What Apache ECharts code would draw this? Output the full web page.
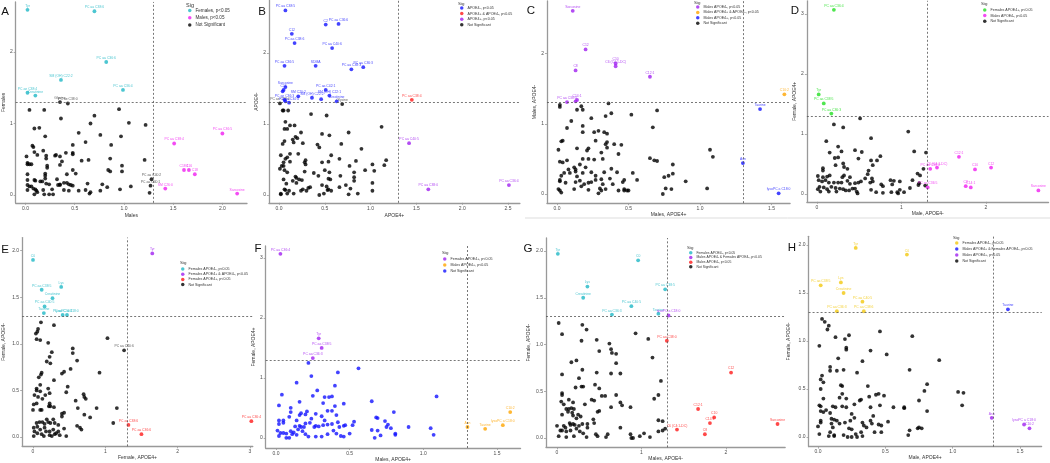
<!DOCTYPE html>
<html><head><meta charset="utf-8">
<script src="https://cdn.jsdelivr.net/npm/echarts@6/dist/echarts.min.js"></script>
<style>html,body{margin:0;padding:0;background:#fff}#c{width:1050px;height:463px}</style>
</head><body><div id="c"></div>
<script>
// ---------------- DATA ----------------
// Panel A: x = Males, y = Females (-log10 p)
const aFemales = [[0.02,2.59,'Tyr'],[0.70,2.57,'PC aa C38:6'],[0.82,1.86,'PC aa C36:6'],[0.36,1.61,'SM (OH) C22:2'],[0.02,1.43,'PC ae C38:4'],[0.10,1.39,'Creatinine'],[0.99,1.47,'PC aa C36:4']];
const aMales = [[2.00,0.86,'PC aa C36:5'],[1.51,0.72,'PC aa C38:4'],[1.61,0.35,'C18:1'],[1.66,0.35,'C16'],[1.72,0.29,'C18'],[1.42,0.09,'SM C26:0'],[2.15,0.02,'Sarcosine']];
const aNotSig = [[0.35,1.30,'Glycine'],[0.43,1.28,'PC ae C38:0'],[1.28,0.22,'PC aa C40:2'],[1.27,0.13,'PC aa C40:1'],[1.26,0.03],
[0.04,1.19],[0.19,1.19],[0.95,1.20],[0.36,1.07],[0.70,1.11],[0.66,1.00],[1.05,1.01],[1.22,0.98],[0.09,0.93],[0.14,0.94],[0.54,0.87],[0.20,0.82],[0.76,0.84],[0.97,0.82],[0.61,0.74],[0.07,0.69],[0.08,0.67],[0.48,0.70],[0.87,0.70],[0.18,0.62],[0.09,0.60],[0.41,0.59],[0.48,0.59],[0.21,0.55],[0.30,0.55],[0.31,0.56],[0.48,0.57],[0.01,0.54],[0.21,0.51],[0.12,0.56],[0.35,0.54],[0.57,0.48],[0.64,0.49],[0.86,0.51],[1.21,0.49],[0.02,0.45],[0.02,0.43],[0.04,0.43],[0.06,0.43],[0.37,0.47],[0.22,0.41],[0.35,0.42],[0.98,0.41],[0.22,0.38],[0.98,0.33],[0.84,0.35],[0.86,0.33],[0.48,0.35],[0.51,0.30],[0.02,0.29],[0.20,0.30],[0.20,0.27],[0.42,0.29],[0.32,0.22],[0.02,0.21],[0.20,0.23],[0.09,0.21],[0.10,0.20],[0.15,0.19],[0.17,0.19],[0.21,0.16],[0.24,0.15],[0.39,0.17],[0.42,0.17],[0.44,0.15],[0.33,0.14],[0.35,0.15],[0.46,0.14],[0.48,0.13],[0.78,0.15],[0.83,0.11],[1.07,0.12],[0.02,0.14],[0.04,0.12],[0.06,0.12],[0.08,0.09],[0.10,0.08],[0.11,0.06],[0.02,0.07],[0.12,0.04],[0.18,0.07],[0.27,0.08],[0.39,0.07],[0.44,0.06],[0.54,0.06],[0.61,0.07],[0.66,0.04],[0.65,0.02],[0.76,0.06],[0.96,0.08],[0.09,0.01],[0.19,0.01],[0.24,0.01],[0.28,0.01],[0.35,0.14],[0.63,0.16]];

// Panel B: x = APOE4+, y = APOE4-
const bApoeNeg = [[0.07,2.60,'PC aa C38:5'],[0.51,2.40,'C2'],[0.65,2.41,'PC aa C36:6'],[0.14,2.27,'C12'],[0.17,2.14,'PC aa C38:6'],[0.58,2.07,'PC aa C40:6'],[0.06,1.82,'PC aa C36:5'],[0.40,1.82,'SDMA'],[0.79,1.77,'PC aa C38:3'],[0.92,1.80,'PC aa C36:3'],[0.07,1.52,'Sarcosine'],[0.05,1.48,'C16'],[0.04,1.46],[0.51,1.48,'PC aa C42:1'],[0.21,1.39,'SM C20:2'],[0.55,1.40,'SM (OH) C22:1'],[0.36,1.37,'SM (OH) C22:2'],[0.46,1.35],[0.06,1.34,'PC ae C36:3'],[0.11,1.30,'PC aa C34:4'],[0.07,1.32],[0.63,1.32,'Creatinine']];
const bBoth = [[1.45,1.34,'PC aa C38:4']];
const bApoePos = [[1.42,0.73,'PC aa C40:5'],[1.63,0.08,'PC aa C38:0'],[2.51,0.14,'PC aa C36:4']];
const bNotSig = [[0.69,1.28,'Glycine'],[0.01,1.29,'PC ae C38:4'],
[0.05,1.19],[0.10,1.19],[0.04,1.19],[0.35,1.14],[0.52,1.12],[1.12,0.96],[0.07,1.03],[0.12,0.98],[0.17,0.98],[0.06,0.93],[0.09,0.93],[0.24,0.88],[0.47,0.86],[0.55,0.84],[0.76,0.88],[0.18,0.82],[0.20,0.80],[0.15,0.78],[0.16,0.74],[0.26,0.73],[0.06,0.76],[0.04,0.72],[0.42,0.71],[0.44,0.67],[0.68,0.72],[0.90,0.65],[0.12,0.58],[0.21,0.58],[0.02,0.56],[0.07,0.51],[0.09,0.53],[0.12,0.47],[0.05,0.46],[0.03,0.41],[0.05,0.41],[0.01,0.37],[0.06,0.35],[0.29,0.49],[0.28,0.46],[0.29,0.43],[0.57,0.56],[0.66,0.51],[0.47,0.46],[0.54,0.47],[0.77,0.41],[0.84,0.48],[1.02,0.43],[1.15,0.42],[1.17,0.49],[0.09,0.32],[0.28,0.33],[0.38,0.31],[0.43,0.27],[0.50,0.35],[0.55,0.32],[0.67,0.27],[0.82,0.32],[0.82,0.25],[0.94,0.35],[1.04,0.34],[0.18,0.26],[0.19,0.24],[0.22,0.22],[0.25,0.21],[0.19,0.17],[0.05,0.22],[0.15,0.20],[0.54,0.23],[0.56,0.22],[0.82,0.20],[1.02,0.17],[0.08,0.16],[0.26,0.08],[0.32,0.10],[0.34,0.11],[0.47,0.14],[0.52,0.12],[0.54,0.08],[0.57,0.06],[0.66,0.11],[0.73,0.14],[0.78,0.09],[1.02,0.06],[0.07,0.07],[0.11,0.06],[0.02,0.01],[0.09,0.02],[0.16,0.02],[0.24,0.06],[0.30,0.06],[0.44,0.00],[0.49,0.02],[0.53,0.07],[0.76,0.01],[0.86,0.02],[0.02,0.02],[0.06,0.08]];

// Panel C: x = Males APOE4+, y = Males APOE4-
const cMalesNeg = [[0.11,2.61,'Sarcosine'],[0.20,2.06,'C12'],[0.13,1.76,'C8'],[0.41,1.86,'C10'],[0.41,1.82,'C6 (C4:1-DC)'],[0.65,1.67,'C12:1'],[0.14,1.34,'C14:1'],[0.13,1.32],[0.07,1.31,'PC aa C38:0']];
const cBoth = [[1.59,1.42,'C10:2']];
const cMalesPos = [[1.42,1.21,'Taurine'],[1.30,0.44,'Asn'],[1.55,0.01,'lysoPC a C18:0']];
const cNotSig = [[0.02,1.27],[0.02,1.24],[0.36,1.29],[0.17,1.25],[0.14,1.20],[0.18,1.20],[0.38,1.15],[0.34,1.11],[0.52,1.13],[0.70,1.19],[0.24,1.08],[0.10,1.04],[0.07,0.94],[0.18,0.97],[0.18,0.88],[0.26,0.88],[0.29,0.90],[0.33,0.88],[0.35,0.86],[0.67,0.95],[0.03,0.75],[0.04,0.76],[0.27,0.76],[0.34,0.71],[0.40,0.71],[0.45,0.70],[0.01,0.63],[0.14,0.65],[0.22,0.65],[0.21,0.62],[0.35,0.66],[0.35,0.74],[0.31,0.59],[0.43,0.57],[0.18,0.50],[0.22,0.50],[0.26,0.49],[0.32,0.50],[0.65,0.51],[0.68,0.48],[0.70,0.47],[1.07,0.63],[1.09,0.53],[0.02,0.46],[0.04,0.45],[0.07,0.48],[0.12,0.38],[0.16,0.42],[0.20,0.38],[0.13,0.35],[0.13,0.32],[0.08,0.35],[0.09,0.30],[0.05,0.30],[0.03,0.26],[0.24,0.31],[0.18,0.30],[0.27,0.26],[0.33,0.31],[0.38,0.36],[0.42,0.31],[0.53,0.30],[0.81,0.42],[0.81,0.29],[0.78,0.26],[0.75,0.24],[0.14,0.25],[0.02,0.18],[0.02,0.20],[0.06,0.16],[0.13,0.17],[0.16,0.19],[0.19,0.14],[0.22,0.16],[0.27,0.20],[0.31,0.21],[0.24,0.17],[0.37,0.22],[0.47,0.20],[0.46,0.17],[0.39,0.14],[0.32,0.14],[0.56,0.20],[0.90,0.18],[0.01,0.07],[0.02,0.05],[0.03,0.02],[0.12,0.07],[0.17,0.11],[0.22,0.06],[0.30,0.08],[0.29,0.01],[0.31,0.05],[0.34,0.07],[0.43,0.05],[0.47,0.07],[0.47,0.05],[0.49,0.05],[0.50,0.05],[0.74,0.00],[0.76,0.08],[0.80,0.07],[1.05,0.08]];

// Panel D: x = Male APOE4-, y = Female APOE4+
const dFemPos = [[0.20,3.07,'PC aa C36:4'],[0.02,1.66,'Tyr'],[0.08,1.51,'PC aa C38:5'],[0.17,1.34,'PC aa C36:3']];
const dMalesNeg = [[1.68,0.62,'C12:1'],[1.87,0.41,'C10'],[2.06,0.44,'C12'],[1.34,0.42,'PC aa C38:0'],[1.42,0.44,'C6 (C4:1-DC)'],[1.31,0.11,'PC aa C36:5'],[1.76,0.13,'C8'],[1.82,0.11,'C14:1'],[2.62,0.06,'Sarcosine']];
const dNotSig = [[0.51,1.26],[0.20,1.16],[0.31,1.11],[1.08,1.04],[0.64,0.93],[0.11,0.88],[0.25,0.79],[0.15,0.69],[0.29,0.71],[0.45,0.73],[0.53,0.70],[0.75,0.63],[1.15,0.71],[1.29,0.69],[0.21,0.60],[0.25,0.61],[0.49,0.59],[0.64,0.56],[0.71,0.56],[0.31,0.51],[0.22,0.48],[0.66,0.48],[0.32,0.45],[0.07,0.43],[0.07,0.39],[0.36,0.42],[0.61,0.39],[0.60,0.33],[1.19,0.34],[1.22,0.31],[1.26,0.42],[0.07,0.28],[0.01,0.30],[0.12,0.29],[0.15,0.31],[0.32,0.31],[0.30,0.28],[0.39,0.28],[0.65,0.26],[0.57,0.26],[0.02,0.23],[0.06,0.21],[0.10,0.23],[0.20,0.19],[0.14,0.19],[0.25,0.19],[0.29,0.19],[0.36,0.22],[0.39,0.17],[0.45,0.18],[0.49,0.19],[0.52,0.21],[0.63,0.19],[0.66,0.21],[0.78,0.13],[0.76,0.16],[0.87,0.23],[0.91,0.22],[0.98,0.21],[0.89,0.16],[1.13,0.23],[1.21,0.18],[1.20,0.15],[1.28,0.14],[1.10,0.10],[0.03,0.12],[0.08,0.11],[0.12,0.08],[0.17,0.12],[0.22,0.10],[0.27,0.09],[0.31,0.08],[0.34,0.06],[0.38,0.06],[0.42,0.09],[0.45,0.09],[0.47,0.04],[0.48,0.01],[0.04,0.04],[0.14,0.04],[0.23,0.04],[0.64,0.07],[0.70,0.03],[0.78,0.02],[0.88,0.03],[0.95,0.03],[0.96,0.01],[1.03,0.03],[0.98,0.07],[0.01,0.08]];

// Panel E: x = Female APOE4+, y = Female APOE4-
const eFemNeg = [[0.00,1.90,'C0'],[0.12,1.58,'PC aa C38:5'],[0.39,1.61,'Lys'],[0.27,1.49,'Creatinine'],[0.16,1.40,'PC aa C40:5'],[0.15,1.33,'Taurine'],[0.41,1.31,'PC aa C36:3'],[0.47,1.31,'lysoPC a C18:0']];
const eBoth = [[1.65,1.97,'Tyr']];
const eFemPos = [[1.32,0.13,'PC aa C38:6'],[1.50,0.03,'PC aa C36:6'],[3.02,0.17,'PC aa C36:4']];
const eNotSig = [[1.26,0.93,'PC aa C40:6'],
[0.11,1.23],[0.29,1.20],[0.07,1.16],[0.04,1.11],[0.06,1.13],[0.05,1.05],[0.10,1.04],[0.21,1.01],[1.03,1.06],[0.55,0.95],[0.55,0.90],[0.61,0.82],[0.26,0.91],[0.23,0.86],[0.19,0.81],[0.24,0.79],[0.52,0.73],[0.43,0.70],[0.40,0.68],[0.12,0.69],[0.11,0.67],[0.08,0.64],[0.92,0.69],[0.29,0.61],[0.10,0.56],[0.48,0.54],[0.46,0.48],[0.05,0.52],[0.05,0.50],[0.21,0.52],[0.10,0.49],[0.23,0.47],[0.17,0.45],[0.02,0.45],[0.07,0.43],[0.13,0.41],[0.70,0.46],[0.71,0.43],[0.73,0.41],[0.59,0.39],[0.01,0.35],[0.05,0.36],[0.23,0.36],[0.24,0.33],[0.22,0.33],[0.29,0.32],[0.10,0.29],[0.12,0.29],[0.00,0.29],[0.62,0.31],[0.88,0.31],[1.16,0.31],[0.71,0.24],[0.79,0.21],[0.40,0.22],[0.40,0.25],[0.43,0.26],[0.19,0.19],[0.28,0.19],[0.05,0.15],[0.09,0.16],[0.13,0.16],[0.16,0.14],[0.21,0.16],[0.24,0.15],[0.30,0.15],[0.35,0.13],[0.61,0.12],[0.65,0.10],[0.67,0.08],[1.11,0.15],[0.01,0.10],[0.02,0.06],[0.06,0.11],[0.10,0.08],[0.16,0.10],[0.18,0.06],[0.23,0.06],[0.28,0.08],[0.32,0.04],[0.35,0.06],[0.37,0.02],[0.43,0.09],[0.46,0.01],[0.01,0.01],[0.12,0.03],[0.15,0.01],[0.23,0.02],[0.26,0.01],[0.30,0.03],[0.06,0.04]];

// Panel F: x = Males APOE4+, y = Female APOE4+
const fFemPos = [[0.03,3.07,'PC aa C36:4'],[0.29,1.66,'Tyr'],[0.31,1.50,'PC aa C38:5'],[0.25,1.33,'PC aa C36:3']];
const fMalesPos = [[1.30,0.18,'Asn'],[1.42,0.15,'Taurine'],[1.54,0.21,'lysoPC a C18:0'],[1.59,0.43,'C10:2']];
const fNotSig = [[0.22,1.25],[0.56,1.16],[0.42,1.09],[0.24,1.03],[0.14,0.92],[0.40,0.87],[0.28,0.79],[0.04,0.72],[0.25,0.70],[0.33,0.68],[0.36,0.68],[0.38,0.69],[1.09,0.69],[0.65,0.61],[0.16,0.60],[0.32,0.58],[0.46,0.57],[0.02,0.54],[0.40,0.53],[0.10,0.50],[0.10,0.43],[0.17,0.41],[0.16,0.38],[0.20,0.39],[0.21,0.44],[0.27,0.40],[0.35,0.45],[0.38,0.45],[0.31,0.36],[0.41,0.38],[0.80,0.43],[0.09,0.35],[0.24,0.32],[0.14,0.29],[0.02,0.29],[0.02,0.23],[0.05,0.29],[0.05,0.25],[0.23,0.25],[0.20,0.24],[0.19,0.18],[0.17,0.18],[0.16,0.20],[0.13,0.19],[0.27,0.20],[0.26,0.18],[0.29,0.19],[0.32,0.21],[0.35,0.22],[0.38,0.23],[0.33,0.29],[0.42,0.26],[0.46,0.20],[0.47,0.21],[0.53,0.27],[0.52,0.21],[0.43,0.18],[0.68,0.34],[0.69,0.33],[0.74,0.28],[0.76,0.22],[0.75,0.18],[0.78,0.16],[0.65,0.13],[0.69,0.12],[0.90,0.18],[1.05,0.16],[0.01,0.12],[0.03,0.08],[0.05,0.08],[0.07,0.07],[0.10,0.11],[0.11,0.06],[0.12,0.09],[0.14,0.05],[0.18,0.11],[0.20,0.06],[0.22,0.02],[0.27,0.02],[0.31,0.02],[0.35,0.06],[0.39,0.12],[0.41,0.07],[0.44,0.03],[0.46,0.02],[0.50,0.07],[0.09,0.00],[0.07,0.00],[0.67,0.00],[0.71,0.04],[0.81,0.05],[0.81,0.07],[1.07,0.05],[0.02,0.03],[0.15,0.14]];

// Panel G: x = Males APOE4-, y = Female APOE4-
const gFemNeg = [[0.01,1.97,'Tyr'],[0.96,1.90,'C0'],[0.36,1.62,'Lys'],[0.31,1.50,'Creatinine'],[0.88,1.41,'PC aa C40:5'],[1.28,1.59,'PC aa C38:5'],[0.65,1.32,'PC aa C36:3'],[1.20,1.33,'Taurine']];
const gBoth = [[1.32,1.31,'lysoPC a C18:0']];
const gMalesNeg = [[1.30,1.04,'PC aa C38:0'],[2.06,0.70,'C12'],[1.67,0.31,'C12:1'],[1.86,0.22,'C10'],[1.81,0.16,'C14:1'],[1.75,0.04,'C8'],[1.42,0.09,'C6 (C4:1-DC)'],[2.61,0.15,'Sarcosine']];
const gNotSig = [[0.02,1.23],[0.30,1.21],[0.35,1.16],[0.06,1.11],[0.93,1.12],[1.08,1.06],[0.29,1.04],[0.47,1.05],[0.62,1.01],[0.64,0.95],[0.50,0.93],[0.65,0.91],[0.70,0.90],[0.70,0.80],[1.13,0.86],[0.17,0.81],[0.23,0.83],[0.06,0.68],[0.30,0.73],[0.47,0.70],[0.64,0.69],[0.75,0.69],[0.26,0.64],[1.23,0.61],[0.22,0.54],[0.29,0.55],[0.31,0.55],[0.45,0.57],[0.50,0.53],[0.53,0.45],[0.57,0.45],[0.06,0.48],[0.06,0.46],[0.70,0.46],[1.20,0.46],[1.15,0.42],[0.14,0.41],[0.19,0.38],[0.41,0.41],[0.44,0.40],[0.75,0.38],[0.77,0.35],[0.05,0.39],[0.08,0.36],[0.33,0.36],[0.50,0.29],[0.48,0.28],[0.11,0.31],[0.14,0.31],[0.17,0.32],[0.20,0.31],[0.13,0.28],[0.18,0.27],[0.25,0.25],[0.28,0.23],[0.19,0.24],[0.64,0.33],[0.87,0.33],[0.06,0.25],[0.23,0.21],[0.43,0.20],[0.44,0.16],[0.75,0.11],[1.20,0.19],[1.25,0.18],[0.00,0.13],[0.08,0.13],[0.15,0.16],[0.16,0.14],[0.19,0.15],[0.21,0.14],[0.26,0.13],[0.30,0.15],[0.36,0.15],[0.36,0.11],[0.04,0.08],[0.06,0.08],[0.10,0.11],[0.11,0.07],[0.16,0.08],[0.23,0.10],[0.27,0.07],[0.31,0.05],[0.60,0.04],[0.58,0.01],[0.46,0.04],[0.48,0.02],[0.02,0.02],[0.11,0.01],[0.20,0.02],[0.35,0.01],[0.87,0.04],[0.88,0.00],[0.90,0.00],[0.98,0.02],[1.03,0.05],[1.10,0.01],[1.20,0.07],[1.28,0.10],[1.25,0.08]];

// Panel H: x = Male APOE4+, y = Female APOE4-
const hFemNeg = [[0.28,1.97,'Tyr'],[0.66,1.90,'C0'],[0.17,1.61,'Lys'],[0.02,1.58,'PC aa C38:5'],[0.19,1.50,'Creatinine'],[0.33,1.41,'PC aa C40:5'],[0.14,1.31,'PC aa C36:3'],[0.34,1.31,'PC aa C38:6']];
const hBoth = [[1.41,1.33,'Taurine']];
const hMalesPos = [[1.29,0.20,'Asn'],[1.53,0.13,'lysoPC a C18:0'],[1.57,0.09,'C10:2']];
const hNotSig = [[0.03,1.23],[0.05,1.20],[0.08,1.16],[0.07,1.12],[0.46,1.10],[0.13,1.04],[0.23,1.06],[0.70,1.05],[0.01,0.95],[0.20,1.02],[0.21,0.93],[0.21,0.91],[0.39,0.90],[0.51,0.86],[0.90,0.80],[0.15,0.82],[0.33,0.79],[0.09,0.73],[0.09,0.69],[0.14,0.69],[0.19,0.70],[0.29,0.67],[0.68,0.70],[0.02,0.60],[0.03,0.64],[0.04,0.57],[0.02,0.50],[0.17,0.54],[0.18,0.53],[0.37,0.53],[0.81,0.55],[0.18,0.45],[0.16,0.41],[0.21,0.40],[0.04,0.40],[0.31,0.38],[0.32,0.39],[0.43,0.44],[0.45,0.45],[0.49,0.43],[0.38,0.42],[0.79,0.48],[1.04,0.47],[1.08,0.46],[0.75,0.38],[0.01,0.33],[0.02,0.32],[0.11,0.32],[0.13,0.31],[0.18,0.32],[0.21,0.31],[0.27,0.34],[0.39,0.31],[0.46,0.33],[0.56,0.31],[0.64,0.30],[0.64,0.31],[0.81,0.27],[1.07,0.33],[0.02,0.27],[0.04,0.26],[0.06,0.28],[0.09,0.25],[0.25,0.24],[0.27,0.20],[0.41,0.22],[0.52,0.16],[0.10,0.19],[0.12,0.18],[0.14,0.17],[0.16,0.14],[0.20,0.15],[0.24,0.17],[0.02,0.17],[0.00,0.11],[0.02,0.15],[0.10,0.14],[0.11,0.10],[0.23,0.09],[0.25,0.08],[0.33,0.15],[0.34,0.12],[0.36,0.10],[0.39,0.17],[0.40,0.14],[0.45,0.13],[0.47,0.12],[0.01,0.03],[0.09,0.05],[0.12,0.02],[0.12,0.01],[0.08,0.01],[0.19,0.02],[0.22,0.00],[0.28,0.03],[0.29,0.00],[0.32,0.05],[0.33,0.01],[0.42,0.05],[0.47,0.05],[0.25,0.00],[0.68,0.07],[0.67,0.02],[0.74,0.09],[0.75,0.10],[0.77,0.09]];

// Tick labels
const ticks = {
  A:{x:[0,0.5,1,1.5,2], y:[0,1,2]},
  B:{x:[0,0.5,1,1.5,2,2.5], y:[0,1,2]},
  C:{x:[0,0.5,1,1.5], y:[0,1,2]},
  D:{x:[0,1,2], y:[0,1,2,3]},
  E:{x:[0,1,2,3], y:[0,0.5,1,1.5,2]},
  F:{x:[0,0.5,1,1.5], y:[0,1,2,3]},
  G:{x:[0,1,2], y:[0,0.5,1,1.5,2]},
  H:{x:[0,0.5,1,1.5], y:[0,0.5,1,1.5,2]}
};
const threshold = 1.3;

// ---------------- STYLE / LAYOUT ----------------
const CYAN='#1fb8c6', MAG='#f01ef0', BLUE='#1414ff', RED='#ff1a1a', PURP='#a020f0', ORNG='#ffa500', GREEN='#22e022', GOLD='#f2c80f', BLK='#000000';
const FONT='Liberation Sans, Arial, sans-serif';

const panels = [
 {k:'A', L:{x0:22,xp:100,y0:195,yp:71.5}, xr:[-0.10,2.25], yr:[-0.11,2.70], xd:1, yd:0, xn:'Males', yn:'Females', xg:10, yg:7,
  lg:{left:188,top:8,fs:4.6,gap:2.2}, sig:[186,2], letter:[5,11.5],
  s:[['Females, p<0.05',aFemales,CYAN],['Males, p<0.05',aMales,MAG],['Not Significant',aNotSig,BLK]]},
 {k:'B', L:{x0:279,xp:91.6,y0:195,yp:71}, xr:[-0.11,2.63], yr:[-0.11,2.74], xd:1, yd:0, xn:'APOE4+', yn:'APOE4-', xg:10, yg:10,
  lg:{left:460,top:6,fs:3.6,gap:1.6}, sig:[458,1.5], letter:[262,11.5],
  s:[['APOE4-, p<0.05',bApoeNeg,BLUE],['APOE4+ & APOE4-, p<0.05',bBoth,RED],['APOE4+, p<0.05',bApoePos,PURP],['Not Significant',bNotSig,BLK]]},
 {k:'C', L:{x0:557,xp:143,y0:194,yp:70.2}, xr:[-0.07,1.63], yr:[-0.13,2.75], xd:1, yd:0, xn:'Males, APOE4+', yn:'Males, APOE4-', xg:9, yg:9,
  lg:{left:696,top:5,fs:3.6,gap:1.4}, sig:[694,0.5], letter:[531,11],
  s:[['Males APOE4-, p<0.05',cMalesNeg,PURP],['Males APOE4+ & APOE4-, p<0.05',cBoth,ORNG],['Males APOE4+, p<0.05',cMalesPos,BLUE],['Not Significant',cNotSig,BLK]]},
 {k:'D', L:{x0:817,xp:84.5,y0:194,yp:60}, xr:[-0.12,2.74], yr:[-0.13,3.22], xd:0, yd:0, xn:'Male, APOE4-', yn:'Female, APOE4+', xg:9, yg:9,
  lg:{left:983,top:8,fs:3.6,gap:1.6}, sig:[981,1.5], letter:[795,10.5],
  s:[['Females APOE4+, p<0.05',dFemPos,GREEN],['Males APOE4-, p<0.05',dMalesNeg,MAG],['Not Significant',dNotSig,BLK]]},
 {k:'E', L:{x0:33,xp:72.3,y0:437,yp:93.2}, xr:[-0.15,3.04], yr:[-0.10,2.14], xd:0, yd:1, xn:'Female, APOE4+', yn:'Female, APOE4-', xg:9, yg:16,
  lg:{left:181,top:267,fs:3.6,gap:1.2}, sig:[180,261], letter:[5,250],
  s:[['Females APOE4-, p<0.05',eFemNeg,CYAN],['Females APOE4+ & APOE4-, p<0.05',eBoth,PURP],['Females APOE4+, p<0.05',eFemPos,RED],['Not Significant',eNotSig,BLK]]},
 {k:'F', L:{x0:276,xp:147.3,y0:438,yp:60}, xr:[-0.07,1.66], yr:[-0.17,3.20], xd:1, yd:0, xn:'Males, APOE4+', yn:'Female, APOE4+', xg:9, yg:10,
  lg:{left:443,top:257,fs:3.6,gap:2}, sig:[442,251], letter:[258,249],
  s:[['Females APOE4+, p<0.05',fFemPos,PURP],['Males APOE4+, p<0.05',fMalesPos,ORNG],['Not Significant',fNotSig,BLUE]]},
 {k:'G', L:{x0:557,xp:84.5,y0:438,yp:93.5}, xr:[-0.13,2.70], yr:[-0.10,2.14], xd:0, yd:1, xn:'Males, APOE4-', yn:'Female, APOE4-', xg:9, yg:15,
  lg:{left:689,top:251,fs:3.4,gap:1.2}, sig:[687,245.5], letter:[528,249],
  s:[['Females APOE4-, p<0.05',gFemNeg,CYAN],['Males APOE4- & Females APOE4-, p<0.05',gBoth,PURP],['Males APOE4-, p<0.05',gMalesNeg,RED],['Not Significant',gNotSig,BLK]]},
 {k:'H', L:{x0:818,xp:134.7,y0:437,yp:96}, xr:[-0.07,1.66], yr:[-0.10,2.09], xd:1, yd:1, xn:'Male, APOE4+', yn:'Female, APOE4-', xg:9, yg:17,
  lg:{left:955,top:241,fs:3.6,gap:2}, sig:[953,235.5], letter:[792,248],
  s:[['Females APOE4-, p<0.05',hFemNeg,GOLD],['Males APOE4+ & Females APOE4-, p<0.05',hBoth,BLUE],['Males APOE4+, p<0.05',hMalesPos,PURP],['Not Significant',hNotSig,BLK]]}
];

const grid=[], xAxis=[], yAxis=[], series=[], legend=[], graphic=[];
panels.forEach((p,i)=>{
  const L=p.L;
  grid.push({left:L.x0+p.xr[0]*L.xp, width:(p.xr[1]-p.xr[0])*L.xp, top:L.y0-p.yr[1]*L.yp, height:(p.yr[1]-p.yr[0])*L.yp, containLabel:false});
  const axCommon = {splitLine:{show:false},
     axisLine:{show:true,onZero:false,lineStyle:{color:'#999999',width:1.3}},
     axisTick:{show:true,length:2,lineStyle:{color:'#999999',width:0.8}},
     nameTextStyle:{fontSize:5,color:'#333',fontFamily:FONT}};
  xAxis.push(Object.assign({}, axCommon, {type:'value', gridIndex:i, min:p.xr[0], max:p.xr[1],
     name:p.xn, nameLocation:'middle', nameGap:p.xg,
     axisTick:Object.assign({},axCommon.axisTick,{customValues:ticks[p.k].x}),
     axisLabel:{customValues:ticks[p.k].x, fontSize:5, color:'#4d4d4d', margin:3, fontFamily:FONT, formatter:v=>Number(v).toFixed(p.xd)}}));
  yAxis.push(Object.assign({}, axCommon, {type:'value', gridIndex:i, min:p.yr[0], max:p.yr[1],
     name:p.yn, nameLocation:'middle', nameGap:p.yg, nameRotate:90,
     axisTick:Object.assign({},axCommon.axisTick,{customValues:ticks[p.k].y}),
     axisLabel:{customValues:ticks[p.k].y, fontSize:5, color:'#4d4d4d', margin:3, fontFamily:FONT, formatter:v=>Number(v).toFixed(p.yd)}}));
  const names=[];
  p.s.forEach((s,j)=>{
    const nm=p.k+'|'+s[0]; names.push(nm);
    const isNS = s[0]==='Not Significant';
    const labCol = (isNS && s[2]===BLK) ? '#333' : s[2];
    const ser = {type:'scatter', name:nm, xAxisIndex:i, yAxisIndex:i, symbol:'circle', symbolSize:3.8,
      itemStyle:{color:s[2]}, z: isNS?2:3, clip:false,
      label:{show:false, formatter:'{b}', position:'top', distance:0.6, fontSize:3.4, color:labCol, fontFamily:FONT},
      emphasis:{disabled:true}, animation:false,
      data:s[1].map(d=> d[2] ? {value:[d[0],d[1]], name:d[2], label:{show:true}} : {value:[d[0],d[1]]})};
    if(j===p.s.length-1){
      ser.markLine={silent:true, symbol:'none', animation:false,
        lineStyle:{type:[2,2], color:'#555', width:0.8}, label:{show:false},
        data:[{xAxis:threshold},{yAxis:threshold}]};
    }
    series.push(ser);
  });
  legend.push({data:names, orient:'vertical', left:p.lg.left, top:p.lg.top, padding:0, itemGap:p.lg.gap,
    itemWidth:3.5, itemHeight:3.5, icon:'circle', selectedMode:false,
    formatter:n=>n.split('|')[1], textStyle:{fontSize:p.lg.fs, color:'#333', fontFamily:FONT, padding:[0,0,0,-1]}});
  graphic.push({type:'text', left:p.sig[0], top:p.sig[1], style:{text:'Sig', fontSize:p.k==='A'?5.5:4.4, fill:'#333', fontFamily:FONT}});
  graphic.push({type:'text', x:p.letter[0], y:p.letter[1], style:{text:p.k, fontSize:11.5, fill:'#111', fontFamily:FONT, align:'center', verticalAlign:'middle'}});
});
graphic.push({type:'line', shape:{x1:525,y1:218,x2:1050,y2:218}, style:{stroke:'#dddddd', lineWidth:1}});

const chart = echarts.init(document.getElementById('c'), null, {renderer:'canvas'});
chart.setOption({animation:false, backgroundColor:'#fff', grid, xAxis, yAxis, series, legend, graphic});
</script>
</body></html>
